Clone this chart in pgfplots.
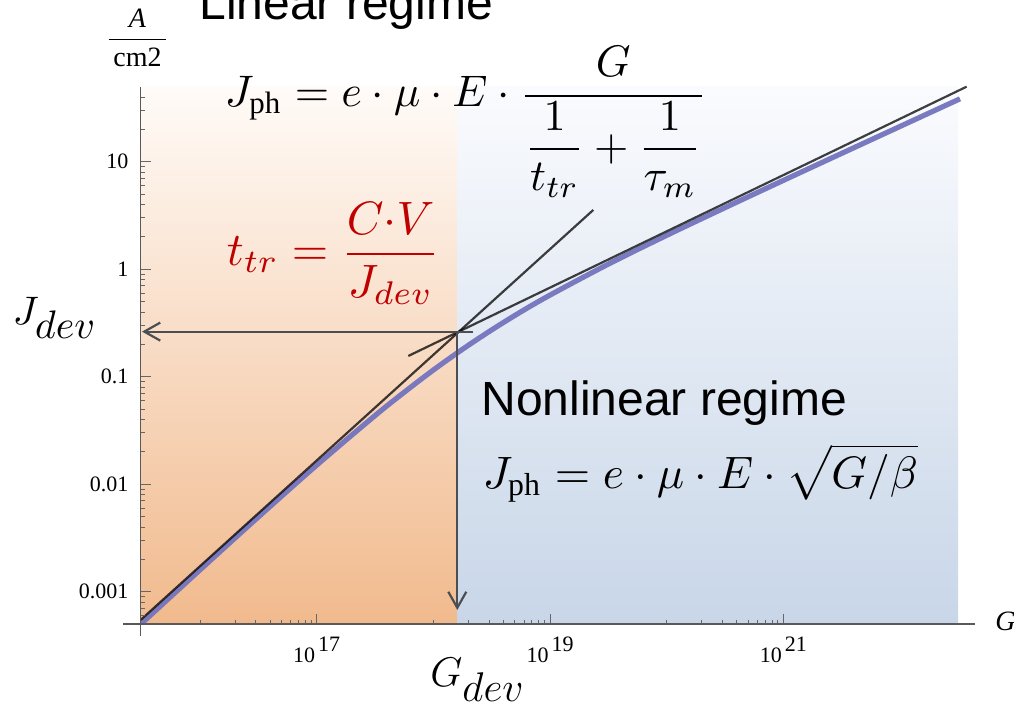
\documentclass[border=0pt]{standalone}
\usepackage{amsmath}
\usepackage{fontspec}
\setmainfont{Liberation Serif}
\newfontfamily\sansf{Liberation Sans}
\usepackage{graphicx}
\usepackage{pgfplots}
\pgfplotsset{compat=1.18}
\usetikzlibrary{arrows.meta}
\definecolor{curveblue}{RGB}{116,116,190}
\definecolor{myred}{RGB}{192,0,0}
\definecolor{orT}{RGB}{255,251,248}
\definecolor{orM}{RGB}{252,234,220}
\definecolor{orB}{RGB}{241,186,141}
\definecolor{blT}{RGB}{250,251,254}
\definecolor{blM}{RGB}{235,240,247}
\definecolor{blB}{RGB}{200,214,232}
\definecolor{arrg}{RGB}{75,78,82}
\newcommand{\xl}[1]{\textrm{10}\hspace{1.5pt}\raisebox{5.5pt}{\fontsize{11}{11}\selectfont #1}}
\begin{document}
\begin{tikzpicture}
\useasboundingbox (0,0) rectangle (507pt,355pt);
\begin{axis}[
  at={(70.35pt,43pt)}, anchor=south west,
  scale only axis, width=417.15pt, height=268.5pt,
  xmode=log, ymode=log,
  xmin=3.097e15, xmax=4.40e22, ymin=5.01e-4, ymax=49.65,
  axis lines=left,
  axis line style={-, draw=black!65, line width=0.6pt},
  axis on top, clip=false,
  tick align=inside,
  major tick length=5pt, minor tick length=2.2pt,
  tick style={draw=black!60, line width=0.5pt},
  xtick={1e17,1e19,1e21},
  xticklabels={\xl{17},\xl{19},\xl{21}},
  minor xtick={1e16,2e16,3e16,4e16,5e16,6e16,7e16,8e16,9e16,1e18,2e18,3e18,4e18,5e18,6e18,7e18,8e18,9e18,1e20,2e20,3e20,4e20,5e20,6e20,7e20,8e20,9e20},
  ytick={0.001,0.01,0.1,1,10},
  yticklabels={\textrm{0.001},\textrm{0.01},\textrm{0.1},\textrm{1},\textrm{10}},
  minor ytick={6e-4,7e-4,8e-4,9e-4,2e-3,3e-3,4e-3,5e-3,6e-3,7e-3,8e-3,9e-3,2e-2,3e-2,4e-2,5e-2,6e-2,7e-2,8e-2,9e-2,0.2,0.3,0.4,0.5,0.6,0.7,0.8,0.9,2,3,4,5,6,7,8,9,20,30,40},
  xticklabel style={font=\fontsize{11}{11}\selectfont, inner sep=0pt, yshift=-6.5pt},
  yticklabel style={font=\fontsize{11}{11}\selectfont, inner sep=0pt, xshift=-6pt},
]
% shaded regimes
\addplot[draw=none, top color=orT, middle color=orM, bottom color=orB] coordinates {(3.097e15,5.01e-4) (1.603e18,5.01e-4) (1.603e18,49.65) (3.097e15,49.65)} -- cycle;
\addplot[draw=none, top color=blT, middle color=blM, bottom color=blB] coordinates {(1.603e18,5.01e-4) (3.148e22,5.01e-4) (3.148e22,49.65) (1.603e18,49.65)} -- cycle;
% photocurrent curve
\addplot[curveblue, line width=2.6pt, opacity=0.95, smooth] coordinates {
(3.162e15,5.098e-4) (1e16,1.600e-3) (3.162e16,4.966e-3) (1e17,1.507e-2)
(3.162e17,4.355e-2) (5.623e17,7.178e-2) (1e18,0.1156) (1.778e18,0.1803)
(3.162e18,0.2729) (5.623e18,0.4018) (1e19,0.5754) (3.162e19,1.117)
(1e20,2.068) (3.162e20,3.741) (1e21,6.707) (3.162e21,11.97)
(1e22,21.31) (3.273e22,38.55)};
% asymptotes
\addplot[black, opacity=0.75, line width=1.1pt] coordinates {(3.097e15,5.47e-4) (2.350e19,3.565)};
\addplot[black, opacity=0.75, line width=1.1pt] coordinates {(6.095e17,0.1561) (3.733e22,50.0)};
% arrows
\addplot[arrg, line width=1.1pt, -{Straight Barb[length=8pt,width=9pt,line width=1.1pt]}] coordinates {(2.188e18,0.263) (3.177e15,0.263)};
\addplot[arrg, line width=1.1pt, -{Straight Barb[length=8pt,width=9pt,line width=1.1pt]}] coordinates {(1.603e18,0.263) (1.603e18,6.76e-4)};
% axis extensions
\draw[black!65, line width=0.6pt] (axis cs:2.19e15,5.01e-4) -- (axis cs:3.097e15,5.01e-4);
\draw[black!65, line width=0.6pt] (axis cs:3.097e15,3.91e-4) -- (axis cs:3.097e15,5.01e-4);
\end{axis}
\begin{scope}[x=0.5pt,y=-0.5pt,shift={(0pt,355pt)}]
\node[anchor=base west, inner sep=0pt] at (199,20) {\sansf\fontsize{24}{24}\selectfont Linear regime};
\node[anchor=base west, inner sep=0pt] at (481,416) {\sansf\fontsize{24}{24}\selectfont Nonlinear regime};
\node[inner sep=0pt] at (466,122) {\resizebox{241pt}{!}{$\displaystyle J_{\mathrm{ph}} = e\cdot\mu\cdot E\cdot\frac{G}{\dfrac{1}{t_{tr}}+\dfrac{1}{\tau_m}}$}};
\node[inner sep=0pt] at (700.5,473) {\resizebox{217.5pt}{!}{$\displaystyle J_{\mathrm{ph}} = e\cdot\mu\cdot E\cdot\sqrt{G/\beta}$}};
\node[inner sep=0pt, text=myred] at (333.5,253.5) {\resizebox{106.5pt}{!}{$\displaystyle t_{tr} = \frac{C{\cdot}V}{J_{dev}}$}};
\node[inner sep=0pt] at (55,318) {\resizebox{42pt}{!}{$J_{\textstyle dev}$}};
\node[inner sep=0pt] at (477.5,680) {\fontsize{22}{22}\selectfont $G_{\textstyle dev}$};
\node[inner sep=0pt] at (137.5,38) {\fontsize{14}{14}\selectfont $\displaystyle\frac{\textit{A}}{\,\textrm{cm2}\,}$};
\node[anchor=base west, inner sep=0pt] at (995,631) {\fontsize{14}{14}\selectfont\textit{G}};
\end{scope}
\end{tikzpicture}
\end{document}
